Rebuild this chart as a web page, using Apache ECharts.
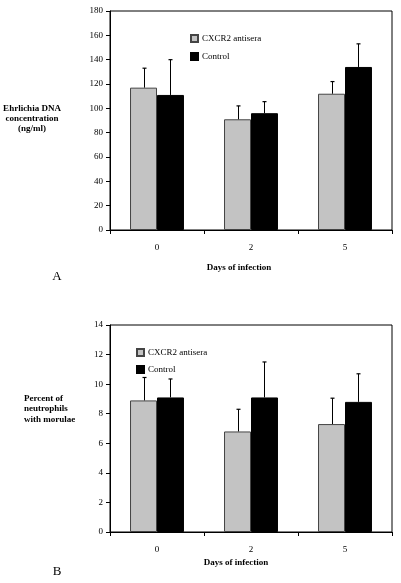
<!DOCTYPE html>
<html>
<head>
<meta charset="utf-8">
<script src="https://cdn.jsdelivr.net/npm/echarts@6/dist/echarts.min.js"></script>
<style>html,body{margin:0;padding:0;background:#fff;}#c{width:401px;height:583px;}</style>
</head>
<body>
<div id="c"></div>
<script>
const categories = ['0', '2', '5'];
const seriesNames = ['CXCR2 antisera', 'Control'];
// Panel A: Ehrlichia DNA concentration (ng/ml)
const aAntisera = [117, 91, 112];
const aAntiseraErr = [16, 11, 10];
const aControl = [111, 96, 134];
const aControlErr = [29, 9.5, 19];
const aTicks = [0, 20, 40, 60, 80, 100, 120, 140, 160, 180];
// Panel B: Percent of neutrophils with morulae
const bAntisera = [8.9, 6.8, 7.3];
const bAntiseraErr = [1.55, 1.5, 1.75];
const bControl = [9.1, 9.1, 8.8];
const bControlErr = [1.25, 2.4, 1.9];
const bTicks = [0, 2, 4, 6, 8, 10, 12, 14];

const FONT = '"Liberation Serif", "DejaVu Serif", serif';
const BW = 0.287;
const GRAY = '#c3c3c3';

function errData(vals, errs) {
  return vals.map((v, i) => [i, v, v + errs[i]]);
}
function errRender(sign) {
  return function (params, api) {
    const i = api.value(0), v = api.value(1), hi = api.value(2);
    const p = api.coord([i, v]);
    const t = api.coord([i, hi]);
    const band = api.size([1, 0])[0];
    const cx = Math.round(p[0] + sign * band * BW / 2) + 0.5;
    return {
      type: 'group',
      children: [
        { type: 'line', shape: { x1: cx, y1: p[1], x2: cx, y2: t[1] }, style: { stroke: '#000', lineWidth: 1 } },
        { type: 'line', shape: { x1: cx - 2, y1: t[1], x2: cx + 2, y2: t[1] }, style: { stroke: '#000', lineWidth: 1.2 } }
      ]
    };
  };
}

function xAxisCfg(gi) {
  return {
    type: 'category', gridIndex: gi, data: categories,
    axisLine: { lineStyle: { color: '#000', width: 1 } },
    axisTick: { show: true, length: 4, lineStyle: { color: '#000' } },
    axisLabel: { color: '#000', fontFamily: FONT, fontSize: 9, margin: 13 }
  };
}
function yAxisCfg(gi, ticks) {
  return {
    type: 'value', gridIndex: gi, min: ticks[0], max: ticks[ticks.length - 1],
    interval: ticks[1] - ticks[0],
    splitLine: { show: false },
    axisLine: { show: true, lineStyle: { color: '#000', width: 1 } },
    axisTick: { show: true, length: 4, lineStyle: { color: '#000' } },
    axisLabel: { color: '#000', fontFamily: FONT, fontSize: 9, margin: 7 }
  };
}
function barSeries(name, gi, data, color) {
  return {
    name: name, type: 'bar', xAxisIndex: gi, yAxisIndex: gi, data: data,
    barWidth: (BW * 100) + '%', barGap: '0%',
    itemStyle: { color: color, borderColor: color === '#000' ? '#000' : '#444', borderWidth: 1 },
    z: 2
  };
}
function errSeries(gi, vals, errs, sign) {
  return {
    type: 'custom', xAxisIndex: gi, yAxisIndex: gi,
    data: errData(vals, errs), renderItem: errRender(sign), z: 3, silent: true
  };
}
function legendCfg(gi, left, top, gap) {
  return {
    data: seriesNames, orient: 'vertical', left: left, top: top,
    itemWidth: 7, itemHeight: 7, itemGap: gap, icon: 'rect',
    textStyle: { color: '#000', fontFamily: FONT, fontSize: 9, padding: [0, 0, 0, -1] },
    selectedMode: false
  };
}
function txt(x, y, text, opts) {
  return {
    type: 'text', x: x, y: y,
    style: Object.assign({ text: text, fill: '#000', font: '9px ' + FONT, align: 'center', verticalAlign: 'middle' }, opts || {})
  };
}

const chart = echarts.init(document.getElementById('c'), null, { renderer: 'canvas' });
chart.setOption({
  animation: false,
  backgroundColor: '#fff',
  grid: [
    { left: 110, top: 11, right: 9, height: 219, show: true, borderColor: '#000', borderWidth: 1, backgroundColor: 'transparent' },
    { left: 110, top: 325, right: 9, height: 207, show: true, borderColor: '#000', borderWidth: 1, backgroundColor: 'transparent' }
  ],
  xAxis: [xAxisCfg(0), xAxisCfg(1)],
  yAxis: [yAxisCfg(0, aTicks), yAxisCfg(1, bTicks)],
  legend: [legendCfg(0, 185, 29, 9), legendCfg(1, 131, 343, 8)],
  series: [
    barSeries(seriesNames[0], 0, aAntisera, GRAY),
    barSeries(seriesNames[1], 0, aControl, '#000'),
    errSeries(0, aAntisera, aAntiseraErr, -1),
    errSeries(0, aControl, aControlErr, 1),
    barSeries(seriesNames[0], 1, bAntisera, GRAY),
    barSeries(seriesNames[1], 1, bControl, '#000'),
    errSeries(1, bAntisera, bAntiseraErr, -1),
    errSeries(1, bControl, bControlErr, 1)
  ],
  graphic: [
    txt(32, 109, 'Ehrlichia DNA', { font: 'bold 9px ' + FONT }),
    txt(32, 119, 'concentration', { font: 'bold 9px ' + FONT }),
    txt(32, 129, '(ng/ml)', { font: 'bold 9px ' + FONT }),
    txt(239, 268, 'Days of infection', { font: 'bold 9px ' + FONT }),
    txt(57, 277, 'A', { font: '13px ' + FONT }),
    txt(24, 399, 'Percent of', { font: 'bold 9px ' + FONT, align: 'left' }),
    txt(24, 409, 'neutrophils', { font: 'bold 9px ' + FONT, align: 'left' }),
    txt(24, 420, 'with morulae', { font: 'bold 9px ' + FONT, align: 'left' }),
    txt(236, 563, 'Days of infection', { font: 'bold 9px ' + FONT }),
    txt(57, 572, 'B', { font: '13px ' + FONT })
  ]
});
</script>
</body>
</html>
